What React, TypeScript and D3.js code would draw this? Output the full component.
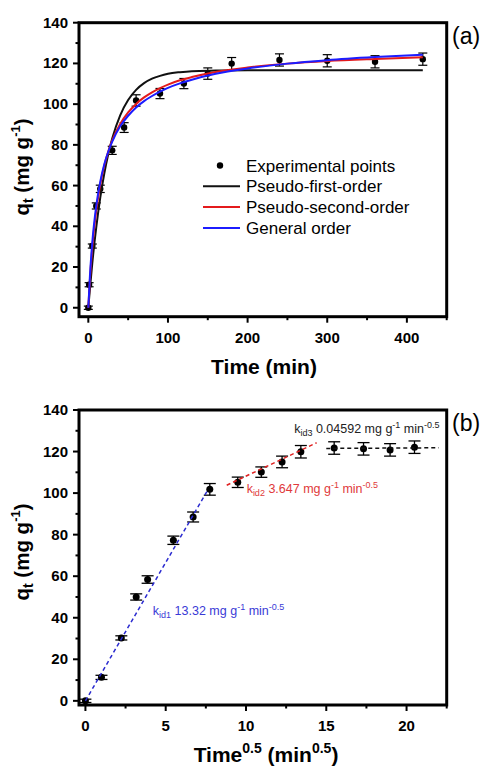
import React from "react";
import * as d3 from "d3";

// ---------- data ----------
const timeMin = [0, 1, 5, 10, 15, 30, 45, 60, 90, 120, 150, 180, 240, 300, 360, 420];
const qtExp = [0, 11.3, 30.3, 50, 58.4, 77.3, 88.5, 101.8, 105.2, 110.1, 115, 119.9, 121.7, 121.3, 120.8, 122.1];
const qtErr = [0.8, 1, 1, 1.5, 1.8, 2, 2.4, 2.8, 2.5, 2.5, 2.8, 3, 3, 3, 3, 3];

const fitTime = [0, 2, 5, 10, 15, 20, 25, 30, 40, 50, 60, 70, 80, 90, 100, 115, 130, 160, 200, 250, 300, 360, 420];
const pfoFit = [0, 9.3, 21.9, 39.6, 54.1, 65.8, 75.4, 83.1, 94.5, 102.0, 107.0, 110.3, 112.5, 113.9, 114.9, 115.7, 116.2, 116.5, 116.7, 116.7, 116.7, 116.7, 116.7];
const psoFit = [0, 13.7, 29.5, 47.9, 60.5, 69.7, 76.7, 82.2, 90.2, 95.9, 100.1, 103.3, 105.8, 107.9, 109.6, 111.7, 113.3, 115.8, 118.0, 119.9, 121.2, 122.2, 123.0];
const goFit = [0, 15.5, 32.1, 50.1, 61.9, 70.3, 76.6, 81.6, 89.1, 94.3, 98.4, 101.5, 104.0, 106.2, 108.0, 110.2, 112.0, 114.9, 117.5, 119.9, 121.6, 123.1, 124.3];

const legendLabels = ["Experimental points", "Pseudo-first-order", "Pseudo-second-order", "General order"];

const kidNames = ["id1", "id2", "id3"];
const kidValues = ["13.32", "3.647", "0.04592"];
const kidSlopes = [13.32, 3.647, 0.04592];
const kidIntercepts = [0, 71.7, 120.8];
const kidStart = [0, 8.8, 15.0];
const kidEnd = [7.65, 14.4, 22.0];

const xTicksA = [0, 100, 200, 300, 400];
const xTicksB = [0, 5, 10, 15, 20];
const yTicks = [0, 20, 40, 60, 80, 100, 120, 140];

// ---------- layout ----------
const FONT = "'Liberation Sans', Arial, Helvetica, sans-serif";
const panelA = { left: 79, right: 446.7, top: 22.7, bottom: 316.7, xDom: [-11.7, 450], yDom: [-4.4, 140] };
const panelB = { left: 79, right: 446.7, top: 410, bottom: 705, xDom: [-0.4, 22.5], yDom: [-2, 140] };
const curveColors = ["#111111", "#e41a1c", "#1c1cff"];
const kidColors = ["#2a2ad0", "#e02020", "#111111"];
const kidTextColors = ["#3a3ad6", "#e03a3a", "#222222"];
const kidLabelPos = [
  [4.2, 41.3],
  [10.04, 100],
  [13.0, 128.9],
];

function Axes({ p, x, y, xTicks, xMinor, yMinor, xTitle, yTitleY, tag }) {
  return (
    <g>
      <rect x={p.left} y={p.top} width={p.right - p.left} height={p.bottom - p.top} fill="none" stroke="#000" strokeWidth={3} />
      {yTicks.map((v) => (
        <g key={"y" + v}>
          <line x1={p.left - 6} x2={p.left} y1={y(v)} y2={y(v)} stroke="#000" strokeWidth={2} />
          <text x={p.left - 11} y={y(v) + 5} textAnchor="end" fontFamily={FONT} fontWeight="bold" fontSize={15}>
            {v}
          </text>
        </g>
      ))}
      {yMinor.map((v) => (
        <line key={"ym" + v} x1={p.left - 3.5} x2={p.left} y1={y(v)} y2={y(v)} stroke="#000" strokeWidth={2} />
      ))}
      {xTicks.map((v) => (
        <g key={"x" + v}>
          <line x1={x(v)} x2={x(v)} y1={p.bottom} y2={p.bottom + 6} stroke="#000" strokeWidth={2} />
          <text x={x(v)} y={p.bottom + 26} textAnchor="middle" fontFamily={FONT} fontWeight="bold" fontSize={15}>
            {v}
          </text>
        </g>
      ))}
      {xMinor.map((v) => (
        <line key={"xm" + v} x1={x(v)} x2={x(v)} y1={p.bottom} y2={p.bottom + 3.5} stroke="#000" strokeWidth={2} />
      ))}
      {xTitle}
      <text transform={`translate(29,${yTitleY}) rotate(-90)`} textAnchor="middle" fontFamily={FONT} fontWeight="bold" fontSize={20.5}>
        q<tspan fontSize={14} dy={4}>t</tspan>
        <tspan dy={-4}> (mg g</tspan>
        <tspan fontSize={13} dy={-9}>-1</tspan>
        <tspan dy={9}>)</tspan>
      </text>
      <text x={452} y={p.top + 21} fontFamily={FONT} fontSize={23}>
        {tag}
      </text>
    </g>
  );
}

export default function App() {
  const xa = d3.scaleLinear().domain(panelA.xDom).range([panelA.left, panelA.right]);
  const ya = d3.scaleLinear().domain(panelA.yDom).range([panelA.bottom, panelA.top]);
  const xb = d3.scaleLinear().domain(panelB.xDom).range([panelB.left, panelB.right]);
  const yb = d3.scaleLinear().domain(panelB.yDom).range([panelB.bottom, panelB.top]);

  const yMinor = d3.range(10, 140, 20);
  const xMinorA = d3.range(50, 451, 100);
  const xMinorB = d3.range(2.5, 22.6, 5);

  const fits = [pfoFit, psoFit, goFit];
  const lineA = d3
    .line<number>()
    .x((_, i) => xa(fitTime[i]))
    .y((d) => ya(d))
    .curve(d3.curveMonotoneX);

  const sqrtT = timeMin.map((t) => Math.sqrt(t));

  const legX = 203;
  const legBase = [171.5, 192.3, 213.1, 233.9];

  return (
    <svg width={487} height={768} style={{ position: "absolute", left: 0, top: 0, background: "#fff" }}>
      <rect width={487} height={768} fill="#fff" />
      {/* ----- Panel A ----- */}
      <Axes
        p={panelA}
        x={xa}
        y={ya}
        xTicks={xTicksA}
        xMinor={xMinorA}
        yMinor={yMinor}
        yTitleY={167}
        tag="(a)"
        xTitle={
          <text x={264} y={374} textAnchor="middle" fontFamily={FONT} fontWeight="bold" fontSize={21}>
            Time (min)
          </text>
        }
      />
      {timeMin.map((t, i) => (
        <g key={"pa" + i} stroke="#000" strokeWidth={1.2}>
          <line x1={xa(t)} x2={xa(t)} y1={ya(qtExp[i] - qtErr[i])} y2={ya(qtExp[i] + qtErr[i])} />
          <line x1={xa(t) - 4.5} x2={xa(t) + 4.5} y1={ya(qtExp[i] - qtErr[i])} y2={ya(qtExp[i] - qtErr[i])} />
          <line x1={xa(t) - 4.5} x2={xa(t) + 4.5} y1={ya(qtExp[i] + qtErr[i])} y2={ya(qtExp[i] + qtErr[i])} />
          <circle cx={xa(t)} cy={ya(qtExp[i])} r={3.2} fill="#000" stroke="none" />
        </g>
      ))}
      {fits.map((f, k) => (
        <path key={"fit" + k} d={lineA(f) || ""} fill="none" stroke={curveColors[k]} strokeWidth={2} />
      ))}
      {/* legend */}
      <circle cx={220} cy={legBase[0] - 6} r={3.2} fill="#000" />
      {[1, 2, 3].map((k) => (
        <line key={"ll" + k} x1={legX} x2={legX + 37} y1={legBase[k] - 6} y2={legBase[k] - 6} stroke={curveColors[k - 1]} strokeWidth={2} />
      ))}
      {legendLabels.map((s, k) => (
        <text key={"lt" + k} x={246} y={legBase[k]} fontFamily={FONT} fontSize={17}>
          {s}
        </text>
      ))}

      {/* ----- Panel B ----- */}
      <Axes
        p={panelB}
        x={xb}
        y={yb}
        xTicks={xTicksB}
        xMinor={xMinorB}
        yMinor={yMinor}
        yTitleY={552}
        tag="(b)"
        xTitle={
          <text x={266} y={762} textAnchor="middle" fontFamily={FONT} fontWeight="bold" fontSize={21}>
            Time<tspan fontSize={14} dy={-9}>0.5</tspan>
            <tspan dy={9}> (min</tspan>
            <tspan fontSize={14} dy={-9}>0.5</tspan>
            <tspan dy={9}>)</tspan>
          </text>
        }
      />
      {sqrtT.map((t, i) => (
        <g key={"pb" + i} stroke="#000" strokeWidth={1.3}>
          <line x1={xb(t)} x2={xb(t)} y1={yb(qtExp[i] - qtErr[i])} y2={yb(qtExp[i] + qtErr[i])} />
          <line x1={xb(t) - 6} x2={xb(t) + 6} y1={yb(qtExp[i] - qtErr[i])} y2={yb(qtExp[i] - qtErr[i])} />
          <line x1={xb(t) - 6} x2={xb(t) + 6} y1={yb(qtExp[i] + qtErr[i])} y2={yb(qtExp[i] + qtErr[i])} />
          <circle cx={xb(t)} cy={yb(qtExp[i])} r={3.5} fill="#000" stroke="none" />
        </g>
      ))}
      {kidSlopes.map((m, k) => (
        <line
          key={"kl" + k}
          x1={xb(kidStart[k])}
          x2={xb(kidEnd[k])}
          y1={yb(kidIntercepts[k] + m * kidStart[k])}
          y2={yb(kidIntercepts[k] + m * kidEnd[k])}
          stroke={kidColors[k]}
          strokeWidth={1.5}
          strokeDasharray="4,3"
        />
      ))}
      {kidNames.map((nm, k) => (
        <text key={"kt" + k} x={xb(kidLabelPos[k][0])} y={yb(kidLabelPos[k][1])} fontFamily={FONT} fontSize={12.5} fill={kidTextColors[k]}>
          k<tspan fontSize={9} dy={3}>{nm}</tspan>
          <tspan dy={-3}> {kidValues[k]} mg g</tspan>
          <tspan fontSize={9} dy={-5}>-1</tspan>
          <tspan dy={5}> min</tspan>
          <tspan fontSize={9} dy={-5}>-0.5</tspan>
        </text>
      ))}
    </svg>
  );
}
